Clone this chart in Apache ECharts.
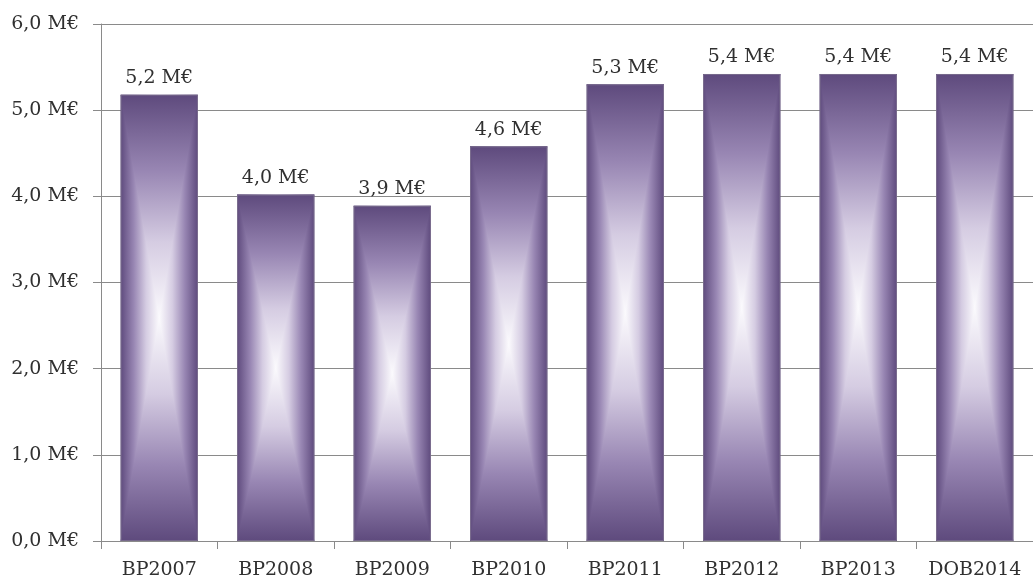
<!DOCTYPE html>
<html>
<head>
<meta charset="utf-8">
<script src="https://cdn.jsdelivr.net/npm/echarts@6/dist/echarts.min.js"></script>
<style>
html,body{margin:0;padding:0;background:#fff;}
#chart{width:1033px;height:582px;}
</style>
</head>
<body>
<div id="chart"></div>
<script>
const categories = ['BP2007','BP2008','BP2009','BP2010','BP2011','BP2012','BP2013','DOB2014'];
const values = [5.18, 4.02, 3.89, 4.58, 5.30, 5.42, 5.42, 5.42];
const yTicks = [0, 1, 2, 3, 4, 5, 6];

const FONT = 'DejaVu Serif';
const TEXT = '#303030';
const DARK = '#5e4a7d';
const MID = '#9886b3';
const LIGHT = '#d5cce2';
const WHITE = '#fbfafd';

function fmt(v){ return v.toFixed(1).replace('.', ',') + ' M€'; }

const chart = echarts.init(document.getElementById('chart'));

function renderItem(params, api){
  const idx = api.value(0);
  const val = api.value(1);
  const top = api.coord([idx, val]);
  const base = api.coord([idx, 0]);
  const band = api.size([1, 0])[0];
  const w = band * 0.664;
  const cx = top[0];
  const x0 = cx - w / 2, x1 = cx + w / 2;
  const y0 = top[1], y1 = base[1];
  const ym = (y0 + y1) / 2;
  const hGrad = new echarts.graphic.LinearGradient(0, 0, 1, 0, [
    {offset: 0, color: DARK}, {offset: 0.17, color: MID}, {offset: 0.33, color: LIGHT},
    {offset: 0.5, color: WHITE},
    {offset: 0.67, color: LIGHT}, {offset: 0.83, color: MID}, {offset: 1, color: DARK}
  ]);
  const topGrad = new echarts.graphic.LinearGradient(0, 0, 0, 1, [
    {offset: 0, color: DARK}, {offset: 0.34, color: MID}, {offset: 0.66, color: LIGHT}, {offset: 1, color: WHITE}
  ]);
  const botGrad = new echarts.graphic.LinearGradient(0, 0, 0, 1, [
    {offset: 0, color: WHITE}, {offset: 0.34, color: LIGHT}, {offset: 0.66, color: MID}, {offset: 1, color: DARK}
  ]);
  return {
    type: 'group',
    children: [
      {type: 'rect', shape: {x: x0, y: y0, width: w, height: y1 - y0}, style: {fill: hGrad}},
      {type: 'polygon', shape: {points: [[x0, y0], [x1, y0], [cx, ym]]}, style: {fill: topGrad}},
      {type: 'polygon', shape: {points: [[x0, y1], [x1, y1], [cx, ym]]}, style: {fill: botGrad}},
      {type: 'rect', shape: {x: x0 + 0.5, y: y0 + 0.5, width: w - 1, height: y1 - y0 - 1},
        style: {fill: null, stroke: 'rgba(130,120,145,0.7)', lineWidth: 1}},
      {type: 'text', x: cx, y: y0 - 7,
        style: {text: fmt(val), align: 'center', verticalAlign: 'bottom',
          font: '19px "' + FONT + '"', fill: TEXT}}
    ]
  };
}

chart.setOption({
  animation: false,
  backgroundColor: '#fff',
  grid: {left: 101, top: 24, right: -8, bottom: 41},
  xAxis: {
    type: 'category',
    data: categories,
    axisLine: {lineStyle: {color: '#8a8a8a', width: 1}},
    axisTick: {show: true, length: 8, interval: 0, lineStyle: {color: '#8a8a8a'}},
    axisLabel: {color: TEXT, fontFamily: FONT, fontSize: 19, margin: 20, interval: 0, hideOverlap: false}
  },
  yAxis: {
    type: 'value',
    min: yTicks[0], max: yTicks[yTicks.length - 1], interval: 1,
    axisLine: {show: true, lineStyle: {color: '#8a8a8a', width: 1}},
    axisTick: {show: true, length: 8, lineStyle: {color: '#8a8a8a'}},
    splitLine: {show: true, lineStyle: {color: '#8a8a8a', width: 1}},
    axisLabel: {color: TEXT, fontFamily: FONT, fontSize: 19, margin: 22, formatter: fmt}
  },
  series: [{
    type: 'custom',
    renderItem: renderItem,
    data: values.map((v, i) => [i, v]),
    encode: {x: 0, y: 1},
    clip: false
  }]
});
</script>
</body>
</html>
